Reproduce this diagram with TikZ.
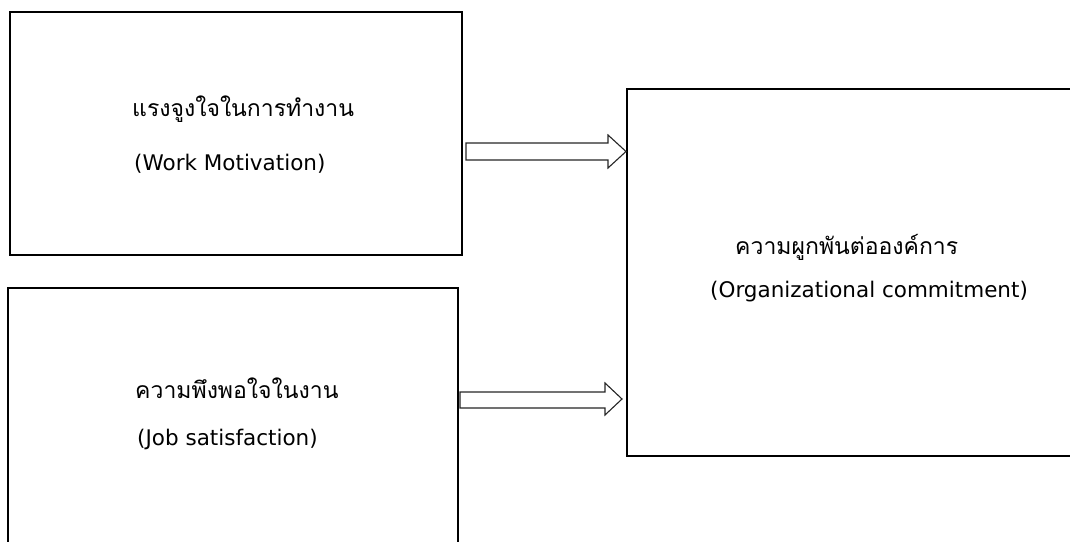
\documentclass[tikz,border=0pt]{standalone}
\usepackage{fontspec}
\setmainfont{Liberation Sans}
\newfontfamily\thaifont[Script=Thai]{Loma}
\newfontfamily\latfont{DejaVu Sans}
\begin{document}
\begin{tikzpicture}[x=1pt,y=-1pt,
  boxstyle/.style={draw=black,line width=2.6pt,fill=white},
  blockarrow/.style={draw=black!85,line width=1.1pt,fill=white,line join=miter},
  labelstyle/.style={anchor=west,inner sep=0pt},
  thaitext/.style={labelstyle,font=\thaifont\fontsize{23}{26}\selectfont},
  lattext/.style={labelstyle,font=\latfont\fontsize{21.5}{24}\selectfont}]
\useasboundingbox (0,0) rectangle (1070,541);
\clip (0,0) rectangle (1070,541);
% boxes
\draw[boxstyle] (10,12) rectangle (462,255);
\draw[boxstyle] (8,288) rectangle (458,550);
\draw[boxstyle] (627,89) rectangle (1080,456);
% texts
\node[thaitext] (t1a) at (132,109) {แรงจูงใจในการทำงาน};
\node[lattext] (t1b) at (134,164) {(Work Motivation)};
\node[thaitext] (t2a) at (135,388) {ความพึงพอใจในงาน};
\node[lattext] (t2b) at (137,439) {(Job satisfaction)};
\node[thaitext] (t3a) at (735,247) {ความผูกพันต่อองค์การ};
\node[lattext] (t3b) at (710,292) {(Organizational commitment)};
% block arrows
\draw[blockarrow] (466,143) -- (608,143) -- (608,135) -- (626,151.5) -- (608,168) -- (608,160) -- (466,160) -- cycle;
\draw[blockarrow] (460,392) -- (605,392) -- (605,383) -- (622,399) -- (605,415) -- (605,408) -- (460,408) -- cycle;
\end{tikzpicture}
\end{document}
